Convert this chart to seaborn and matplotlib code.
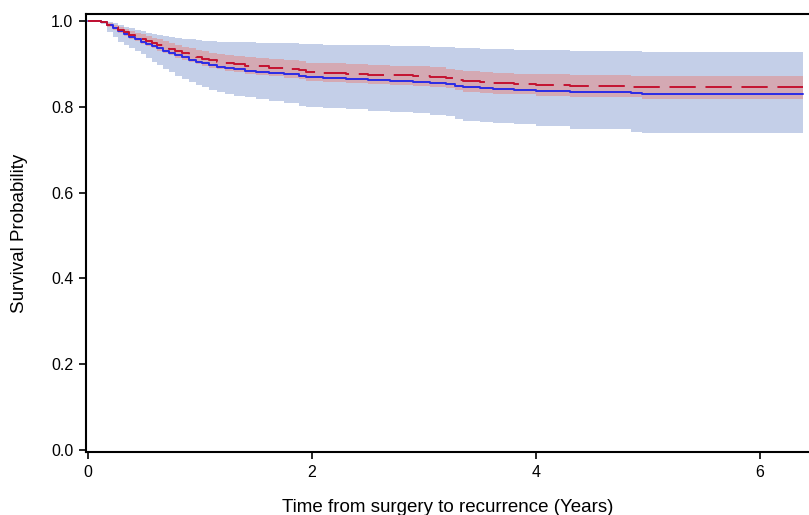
import matplotlib
matplotlib.use("Agg")
import matplotlib.pyplot as plt
import seaborn as sns
import pandas as pd

# step times (years) and survival estimates
time = [0, 0.12, 0.17, 0.22, 0.27, 0.32, 0.37, 0.42, 0.47, 0.52, 0.57, 0.62, 0.67, 0.72,
        0.78, 0.84, 0.9, 0.96, 1.02, 1.08, 1.15, 1.22, 1.3, 1.4, 1.5, 1.62, 1.75, 1.88,
        1.95, 2.1, 2.3, 2.5, 2.7, 2.9, 3.05, 3.2, 3.28, 3.35, 3.5, 3.62, 3.8, 4.0, 4.3,
        4.85, 4.95, 6.38]

blue_surv = [1.0, 0.997, 0.990, 0.983, 0.976, 0.970, 0.963, 0.957, 0.951, 0.946, 0.941,
             0.936, 0.931, 0.925, 0.920, 0.915, 0.910, 0.905, 0.901, 0.897, 0.893, 0.890,
             0.887, 0.884, 0.882, 0.879, 0.876, 0.872, 0.869, 0.866, 0.864, 0.862, 0.860,
             0.858, 0.856, 0.853, 0.849, 0.846, 0.843, 0.841, 0.839, 0.837, 0.834, 0.832,
             0.829, 0.829]
blue_upper = [1.0, 1.0, 0.998, 0.995, 0.991, 0.987, 0.983, 0.979, 0.976, 0.973, 0.970,
              0.968, 0.966, 0.963, 0.961, 0.959, 0.957, 0.955, 0.954, 0.953, 0.952, 0.951,
              0.950, 0.950, 0.949, 0.949, 0.948, 0.947, 0.946, 0.945, 0.944, 0.943, 0.942,
              0.941, 0.940, 0.939, 0.937, 0.936, 0.935, 0.934, 0.933, 0.932, 0.930, 0.929,
              0.928, 0.928]
blue_lower = [1.0, 0.993, 0.975, 0.962, 0.952, 0.944, 0.937, 0.930, 0.922, 0.913, 0.905,
              0.897, 0.889, 0.880, 0.872, 0.864, 0.857, 0.851, 0.845, 0.840, 0.835, 0.830,
              0.826, 0.822, 0.818, 0.813, 0.808, 0.803, 0.800, 0.797, 0.794, 0.791, 0.788,
              0.785, 0.782, 0.778, 0.772, 0.768, 0.764, 0.762, 0.759, 0.755, 0.748, 0.742,
              0.738, 0.738]

red_surv = [1.0, 0.997, 0.991, 0.985, 0.979, 0.974, 0.968, 0.963, 0.958, 0.953, 0.948,
            0.944, 0.939, 0.934, 0.929, 0.925, 0.920, 0.916, 0.912, 0.908, 0.905, 0.902,
            0.899, 0.896, 0.894, 0.891, 0.888, 0.885, 0.882, 0.879, 0.877, 0.875, 0.873,
            0.871, 0.869, 0.866, 0.862, 0.859, 0.857, 0.855, 0.853, 0.851, 0.848, 0.847,
            0.845, 0.845]
red_upper = [1.0, 0.999, 0.995, 0.991, 0.986, 0.982, 0.977, 0.973, 0.969, 0.965, 0.960,
             0.957, 0.953, 0.948, 0.944, 0.940, 0.936, 0.932, 0.929, 0.925, 0.923, 0.920,
             0.918, 0.915, 0.914, 0.911, 0.909, 0.906, 0.903, 0.901, 0.899, 0.897, 0.895,
             0.894, 0.892, 0.889, 0.885, 0.883, 0.881, 0.879, 0.877, 0.876, 0.873, 0.872,
             0.871, 0.871]
red_lower = [1.0, 0.995, 0.987, 0.979, 0.972, 0.966, 0.959, 0.953, 0.947, 0.941, 0.936,
             0.931, 0.925, 0.920, 0.914, 0.910, 0.904, 0.900, 0.895, 0.891, 0.887, 0.884,
             0.880, 0.877, 0.874, 0.871, 0.867, 0.864, 0.861, 0.857, 0.855, 0.853, 0.851,
             0.848, 0.846, 0.843, 0.839, 0.835, 0.833, 0.831, 0.829, 0.826, 0.823, 0.822,
             0.819, 0.819]

df = pd.DataFrame({"time": time, "blue": blue_surv, "red": red_surv})

sns.set_style("ticks")
plt.rcParams["font.family"] = ["Liberation Sans", "DejaVu Sans"]

fig = plt.figure(figsize=(8.09, 5.15), dpi=100)
ax = fig.add_axes([0.1063, 0.1223, 0.8937, 0.8505])

ax.fill_between(time, blue_lower, blue_upper, step="post", color="#c4cfe8", lw=0)
ax.fill_between(time, red_lower, red_upper, step="post", color="#d4a9b3", lw=0)

sns.lineplot(data=df, x="time", y="blue", ax=ax, drawstyle="steps-post",
             color="#2b2be6", linewidth=1.4)
sns.lineplot(data=df, x="time", y="red", ax=ax, drawstyle="steps-post",
             color="#c41230", linewidth=1.4, linestyle=(0, (13.5, 5)))

ax.set_xlim(-0.018, 6.4375)
ax.set_ylim(-0.0047, 1.0163)
ax.set_xticks([0, 2, 4, 6])
ax.set_yticks([0.0, 0.2, 0.4, 0.6, 0.8, 1.0])
ax.set_yticklabels(["0.0", "0.2", "0.4", "0.6", "0.8", "1.0"])
ax.set_xlabel("Time from surgery to recurrence (Years)", fontsize=13.5,
              labelpad=14, color="black")
ax.set_ylabel("Survival Probability", fontsize=13.5, color="black")
ax.yaxis.set_label_coords(-0.08, 0.5)
ax.tick_params(axis="both", labelsize=11.5, length=5, width=1.2, color="black",
               labelcolor="black", direction="out", pad=4)
for side in ["left", "bottom", "top"]:
    ax.spines[side].set_linewidth(1.5)
    ax.spines[side].set_color("black")
ax.spines["right"].set_visible(False)

fig.savefig("out.png", dpi=100)
